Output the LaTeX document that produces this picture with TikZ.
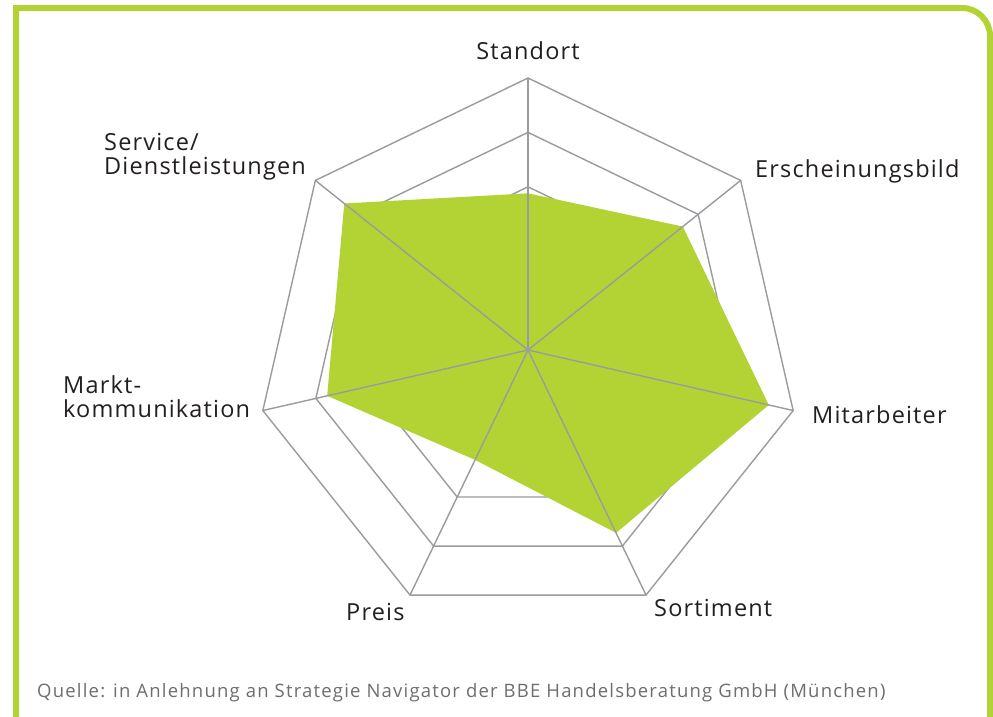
\documentclass[tikz,border=0pt]{standalone}
\usepackage{fontspec}
\setmainfont{Open Sans}
\newfontfamily\labelfont[LetterSpace=5]{Open Sans}
\newfontfamily\sourcefont[LetterSpace=6.5]{Open Sans}
\definecolor{framegreen}{HTML}{B3D334}
\definecolor{areagreen}{HTML}{B3D335}
\definecolor{gridgray}{HTML}{9B9B9F}
\definecolor{labeltext}{HTML}{231F20}
\definecolor{sourcetext}{HTML}{6D6E71}
\tikzset{
  frameline/.style={draw=framegreen, line width=6pt},
  gridline/.style={draw=gridgray, line width=1.4pt, line join=miter},
  dataarea/.style={fill=areagreen, draw=none},
  axislabel/.style={inner sep=0pt, text=labeltext, font=\labelfont\fontsize{23.5}{24}\selectfont, align=left},
  sourcelabel/.style={inner sep=0pt, text=sourcetext, font=\sourcefont\fontsize{18.5}{20}\selectfont}
}
\begin{document}
\begin{tikzpicture}[x=1pt,y=-1pt]
\useasboundingbox (0,0) rectangle (993,716);
\fill[white] (0,0) rectangle (993,716);
% frame
\draw[frameline] (16,730) -- (16,8) -- (962,8) arc[start angle=-90, end angle=0, radius=28] -- (990,730);
% centre
\coordinate (c) at (528,350);
% rings
\foreach \r in {272,217.6,163.2}{
  \draw[gridline] ({528+\r*cos(90)},{350-\r*sin(90)})
    -- ({528+\r*cos(90-1*360/7)},{350-\r*sin(90-1*360/7)})
    -- ({528+\r*cos(90-2*360/7)},{350-\r*sin(90-2*360/7)})
    -- ({528+\r*cos(90-3*360/7)},{350-\r*sin(90-3*360/7)})
    -- ({528+\r*cos(90-4*360/7)},{350-\r*sin(90-4*360/7)})
    -- ({528+\r*cos(90-5*360/7)},{350-\r*sin(90-5*360/7)})
    -- ({528+\r*cos(90-6*360/7)},{350-\r*sin(90-6*360/7)})
    -- cycle;
}
% data points
\foreach \k/\r in {0/156.7,1/198,2/247,3/203,4/122,5/206,6/235}{
  \coordinate (d\k) at ({528+\r*cos(90-\k*360/7)},{350-\r*sin(90-\k*360/7)});
}
\fill[dataarea] (d0) -- (d1) -- (d2) -- (d3) -- (d4) -- (d5) -- (d6) -- cycle;
% axes
\foreach \k in {0,...,6}{
  \coordinate (v\k) at ({528+272*cos(90-\k*360/7)},{350-272*sin(90-\k*360/7)});
  \draw[gridline] (c) -- (v\k);
}
% labels
\node[axislabel, anchor=base] (standort) at (528,59) {Standort};
\node[axislabel, anchor=base west] (erschein) at (755,177) {Erscheinungsbild};
\node[axislabel, anchor=base west] (mitarb) at (812,423) {Mitarbeiter};
\node[axislabel, anchor=base west] (sortim) at (654,616) {Sortiment};
\node[axislabel, anchor=base west] (preis) at (346,620) {Preis};
\node[axislabel, anchor=base west] (markt) at (63,417) {Markt-\\kommunikation};
\node[axislabel, anchor=base west] (service) at (104,174) {Service/\\Dienstleistungen};
\node[sourcelabel, anchor=base west] (quelle) at (37,697) {Quelle: in Anlehnung an Strategie Navigator der BBE Handelsberatung GmbH (München)};
\end{tikzpicture}
\end{document}
